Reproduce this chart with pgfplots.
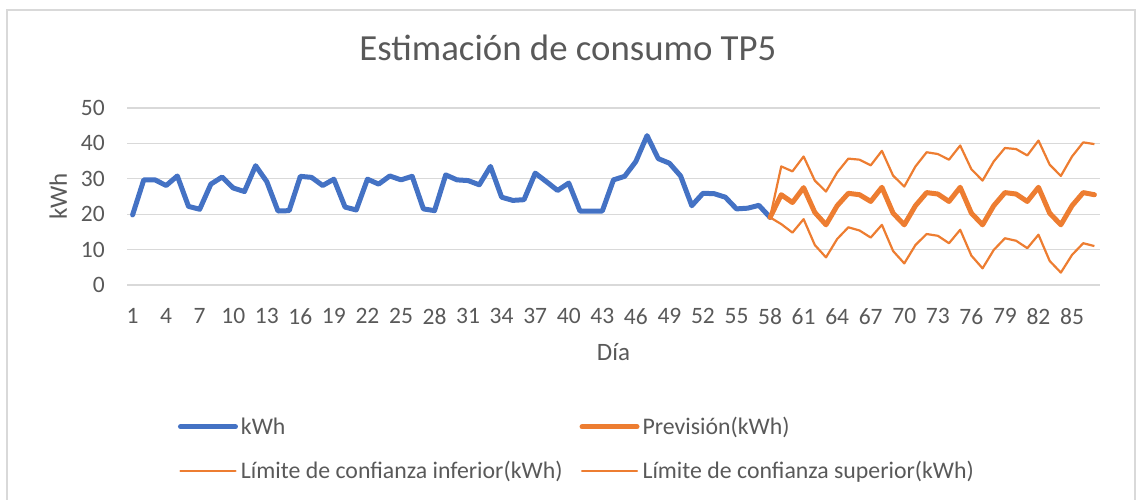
\documentclass[border=0pt]{standalone}
\usepackage{fontspec}
\setmainfont{Carlito}
\usepackage{pgfplots}
\pgfplotsset{compat=1.18}
\definecolor{cblue}{HTML}{4472C4}
\definecolor{corange}{HTML}{ED7D31}
\definecolor{ctext}{HTML}{595959}
\definecolor{cgrid}{HTML}{D9D9D9}
\newcommand{\tfont}{\fontsize{23.5}{28}\selectfont}
\newcommand{\lfont}{\fontsize{25}{30}\selectfont}
\begin{document}
\begin{tikzpicture}[x=1pt,y=1pt]
\path[use as bounding box] (0,0) rectangle (1136,500);
\draw[cgrid, line width=1.4pt] (7,-5) -- (7,490) -- (1135,490) -- (1135,-5);
\begin{axis}[
  at={(127pt,215pt)}, anchor=south west,
  width=973pt, height=177pt, scale only axis,
  xmin=0.5, xmax=87.5, ymin=0, ymax=50,
  xtick={1,4,...,85}, ytick={0,10,...,50},
  /pgf/number format/assume math mode=true,
  ymajorgrids, grid style={cgrid, line width=1.3pt},
  axis line style={draw=none}, major tick length=0pt,
  tick label style={font=\tfont, text=ctext},
  xticklabel style={anchor=north, inner sep=0pt, yshift=-23pt},
  yticklabel style={anchor=east, inner sep=0pt, xshift=-22pt},
  xlabel={Día}, ylabel={kWh},
  label style={font=\lfont, text=ctext},
  xlabel style={at={(axis description cs:0.5,0)}, anchor=north, inner sep=0pt, yshift=-58pt},
  ylabel style={at={(axis description cs:-0.0617,0.5)}, anchor=base, inner sep=0pt},
  title={Estimación de consumo TP5},
  title style={at={(axis description cs:0.4532,1.235)}, anchor=base, inner sep=0pt,
    font=\fontsize{36.8}{44}\selectfont, text=ctext},
  legend columns=2,
  legend style={draw=none, fill=none, at={(axis description cs:0.0524,-0.748)}, anchor=north west,
    inner sep=0pt, outer sep=0pt, font=\fontsize{23.8}{28}\selectfont, text=ctext,
    nodes={inner sep=0pt}, column sep=3pt, row sep=25pt,
    /tikz/every even column/.append style={column sep=17pt}},
  legend cell align=left,
  legend image code/.code={\draw[#1, line cap=round] (0pt,0pt) -- (55pt,0pt);},
  line join=round,
]
\addplot[cblue, line width=5pt, line cap=round] coordinates {
(1,19.8)(2,29.7)(3,29.7)(4,28.1)(5,30.8)(6,22.2)(7,21.4)(8,28.5)(9,30.5)(10,27.4)
(11,26.4)(12,33.7)(13,29.2)(14,20.9)(15,21.0)(16,30.7)(17,30.4)(18,28.1)(19,29.9)(20,22.0)
(21,21.2)(22,29.9)(23,28.5)(24,30.8)(25,29.7)(26,30.7)(27,21.5)(28,21.0)(29,31.1)(30,29.7)
(31,29.5)(32,28.3)(33,33.5)(34,24.8)(35,23.9)(36,24.1)(37,31.6)(38,29.2)(39,26.7)(40,28.8)
(41,20.9)(42,20.9)(43,20.9)(44,29.7)(45,30.7)(46,34.9)(47,42.2)(48,35.7)(49,34.4)(50,30.8)
(51,22.4)(52,25.9)(53,25.8)(54,24.8)(55,21.5)(56,21.7)(57,22.5)(58,19.1)
};
\addlegendentry{kWh}
\addplot[corange, line width=5pt, line cap=round] coordinates {
(58,19.1)(59,25.5)(60,23.3)(61,27.5)(62,20.5)(63,17.0)(64,22.4)(65,25.9)(66,25.5)(67,23.6)
(68,27.6)(69,20.3)(70,17.0)(71,22.4)(72,26.1)(73,25.7)(74,23.6)(75,27.6)(76,20.3)(77,17.0)
(78,22.4)(79,26.1)(80,25.7)(81,23.6)(82,27.6)(83,20.3)(84,17.0)(85,22.4)(86,26.1)(87,25.5)
};
\addlegendentry{Previsión(kWh)}
\addplot[corange, line width=2.2pt] coordinates {
(58,19.1)(59,17.2)(60,14.8)(61,18.6)(62,11.3)(63,7.8)(64,13.0)(65,16.3)(66,15.4)(67,13.4)
(68,17.0)(69,9.6)(70,6.1)(71,11.3)(72,14.4)(73,13.9)(74,11.8)(75,15.6)(76,8.3)(77,4.7)
(78,9.9)(79,13.2)(80,12.5)(81,10.4)(82,14.2)(83,6.8)(84,3.5)(85,8.5)(86,11.8)(87,11.0)
};
\addlegendentry{Límite de confianza inferior(kWh)}
\addplot[corange, line width=2.2pt] coordinates {
(58,19.1)(59,33.5)(60,32.1)(61,36.3)(62,29.5)(63,26.4)(64,31.8)(65,35.7)(66,35.4)(67,33.8)
(68,37.9)(69,30.9)(70,27.8)(71,33.5)(72,37.5)(73,37.0)(74,35.4)(75,39.4)(76,32.7)(77,29.5)
(78,34.9)(79,38.7)(80,38.4)(81,36.6)(82,40.8)(83,34.0)(84,30.8)(85,36.3)(86,40.3)(87,39.8)
};
\addlegendentry{Límite de confianza superior(kWh)}
\end{axis}
\end{tikzpicture}
\end{document}
